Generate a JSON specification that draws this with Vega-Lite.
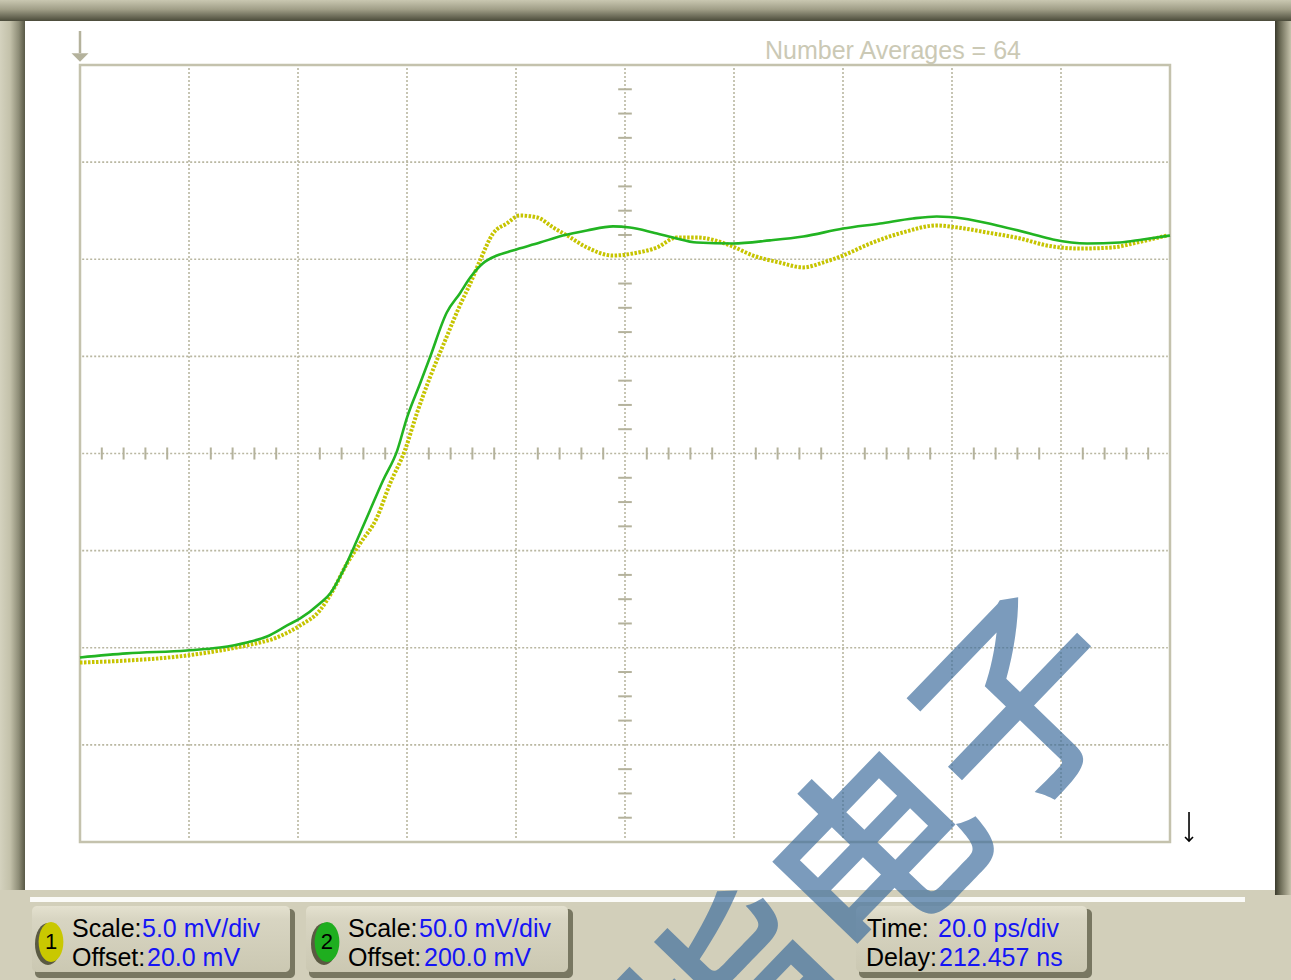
{
  "$schema": "https://vega.github.io/schema/vega-lite/v6.json",
  "width": 1291,
  "height": 980,
  "padding": 0,
  "autosize": {"type": "none"},
  "background": "#d2cfba",
  "config": {"view": {"stroke": null}},
  "resolve": {"scale": {"y": "independent"}},
  "layer": [
    {
      "data": {"values": [{}]},
      "layer": [
        {
          "mark": {"type": "rect", "fill": {"gradient": "linear", "x1": 0, "y1": 0, "x2": 0, "y2": 1, "stops": [{"offset": 0, "color": "#c9c7b1"}, {"offset": 0.45, "color": "#a09e87"}, {"offset": 1, "color": "#4b4b3a"}]}},
          "encoding": {
            "x": {"datum": -114.679, "type": "quantitative", "scale": {"domain": [-114.679, 122.202], "nice": false, "zero": false}, "axis": null},
            "x2": {"datum": 122.202},
            "y": {"datum": 4.6692, "type": "quantitative", "scale": {"domain": [-5.4208, 4.6692], "nice": false, "zero": false}, "axis": null},
            "y2": {"datum": 4.453}
          }
        },
        {
          "mark": {"type": "rect", "fill": {"gradient": "linear", "x1": 0, "y1": 0, "x2": 1, "y2": 0, "stops": [{"offset": 0, "color": "#d4d2be"}, {"offset": 0.4, "color": "#c3c1aa"}, {"offset": 0.75, "color": "#8e8d77"}, {"offset": 1, "color": "#585846"}]}},
          "encoding": {
            "x": {"datum": -114.679, "type": "quantitative", "scale": {"domain": [-114.679, 122.202], "nice": false, "zero": false}, "axis": null},
            "x2": {"datum": -110.092},
            "y": {"datum": 4.453, "type": "quantitative", "scale": {"domain": [-5.4208, 4.6692], "nice": false, "zero": false}, "axis": null},
            "y2": {"datum": -4.4942}
          }
        },
        {
          "mark": {"type": "rect", "fill": {"gradient": "linear", "x1": 0, "y1": 0, "x2": 1, "y2": 0, "stops": [{"offset": 0, "color": "#3a3a2c"}, {"offset": 0.35, "color": "#6f6e59"}, {"offset": 1, "color": "#c6c3ac"}]}},
          "encoding": {
            "x": {"datum": 119.266, "type": "quantitative", "scale": {"domain": [-114.679, 122.202], "nice": false, "zero": false}, "axis": null},
            "x2": {"datum": 122.202},
            "y": {"datum": 4.453, "type": "quantitative", "scale": {"domain": [-5.4208, 4.6692], "nice": false, "zero": false}, "axis": null},
            "y2": {"datum": -4.5457}
          }
        },
        {
          "mark": {"type": "rect", "fill": "#ffffff"},
          "encoding": {
            "x": {"datum": -110.092, "type": "quantitative", "scale": {"domain": [-114.679, 122.202], "nice": false, "zero": false}, "axis": null},
            "x2": {"datum": 119.266},
            "y": {"datum": 4.453, "type": "quantitative", "scale": {"domain": [-5.4208, 4.6692], "nice": false, "zero": false}, "axis": null},
            "y2": {"datum": -4.4942}
          }
        },
        {
          "mark": {"type": "rect", "fill": "#ffffff", "opacity": 0.9},
          "encoding": {
            "x": {"datum": -109.17, "type": "quantitative", "scale": {"domain": [-114.679, 122.202], "nice": false, "zero": false}, "axis": null},
            "x2": {"datum": 113.76},
            "y": {"datum": -4.5663, "type": "quantitative", "scale": {"domain": [-5.4208, 4.6692], "nice": false, "zero": false}, "axis": null},
            "y2": {"datum": -4.6178}
          }
        },
        {
          "data": {"values": [{"a": -108.257, "b": -60.550}, {"a": -57.982, "b": -9.541}, {"a": 42.936, "b": 85.688}]},
          "mark": {"type": "rect", "fill": "#6e6d58", "cornerRadius": 5, "opacity": 0.9},
          "encoding": {
            "x": {"field": "a", "type": "quantitative", "scale": {"domain": [-114.679, 122.202], "nice": false, "zero": false}, "axis": null},
            "x2": {"field": "b"},
            "y": {"datum": -4.6898, "type": "quantitative", "scale": {"domain": [-5.4208, 4.6692], "nice": false, "zero": false}, "axis": null},
            "y2": {"datum": -5.4003}
          }
        },
        {
          "data": {"values": [{"a": -108.807, "b": -61.468}, {"a": -58.532, "b": -10.459}, {"a": 42.385, "b": 84.771}]},
          "mark": {"type": "rect", "cornerRadius": 5, "fill": {"gradient": "linear", "x1": 0, "y1": 0, "x2": 0, "y2": 1, "stops": [{"offset": 0, "color": "#e4e1cf"}, {"offset": 0.2, "color": "#d8d5c2"}, {"offset": 1, "color": "#cbc8b2"}]}},
          "encoding": {
            "x": {"field": "a", "type": "quantitative", "scale": {"domain": [-114.679, 122.202], "nice": false, "zero": false}, "axis": null},
            "x2": {"field": "b"},
            "y": {"datum": -4.6589, "type": "quantitative", "scale": {"domain": [-5.4208, 4.6692], "nice": false, "zero": false}, "axis": null},
            "y2": {"datum": -5.3385}
          }
        },
        {
          "data": {"values": [{"t": -80}, {"t": -60}, {"t": -40}, {"t": -20}, {"t": 0}, {"t": 20}, {"t": 40}, {"t": 60}, {"t": 80}]},
          "mark": {"type": "rule", "color": "#b9b7a1", "strokeWidth": 1.6, "strokeDash": [2, 2]},
          "encoding": {
            "x": {"field": "t", "type": "quantitative", "scale": {"domain": [-114.679, 122.202], "nice": false, "zero": false}, "axis": null},
            "y": {"datum": 3.97, "type": "quantitative", "scale": {"domain": [-5.4208, 4.6692], "nice": false, "zero": false}, "axis": null},
            "y2": {"datum": -3.97}
          }
        },
        {
          "data": {"values": [{"d": -3}, {"d": -2}, {"d": -1}, {"d": 0}, {"d": 1}, {"d": 2}, {"d": 3}]},
          "mark": {"type": "rule", "color": "#b9b7a1", "strokeWidth": 1.6, "strokeDash": [2, 2]},
          "encoding": {
            "x": {"datum": -99.6, "type": "quantitative", "scale": {"domain": [-114.679, 122.202], "nice": false, "zero": false}, "axis": null},
            "x2": {"datum": 99.6},
            "y": {"field": "d", "type": "quantitative", "scale": {"domain": [-5.4208, 4.6692], "nice": false, "zero": false}, "axis": null}
          }
        },
        {
          "data": {"values": [{"t": -96}, {"t": -92}, {"t": -88}, {"t": -84}, {"t": -76}, {"t": -72}, {"t": -68}, {"t": -64}, {"t": -56}, {"t": -52}, {"t": -48}, {"t": -44}, {"t": -36}, {"t": -32}, {"t": -28}, {"t": -24}, {"t": -16}, {"t": -12}, {"t": -8}, {"t": -4}, {"t": 4}, {"t": 8}, {"t": 12}, {"t": 16}, {"t": 24}, {"t": 28}, {"t": 32}, {"t": 36}, {"t": 44}, {"t": 48}, {"t": 52}, {"t": 56}, {"t": 64}, {"t": 68}, {"t": 72}, {"t": 76}, {"t": 84}, {"t": 88}, {"t": 92}, {"t": 96}]},
          "mark": {"type": "rule", "color": "#b4b29c", "strokeWidth": 2},
          "encoding": {
            "x": {"field": "t", "type": "quantitative", "scale": {"domain": [-114.679, 122.202], "nice": false, "zero": false}, "axis": null},
            "y": {"datum": 0.062, "type": "quantitative", "scale": {"domain": [-5.4208, 4.6692], "nice": false, "zero": false}, "axis": null},
            "y2": {"datum": -0.062}
          }
        },
        {
          "data": {"values": [{"d": -3.75}, {"d": -3.5}, {"d": -3.25}, {"d": -2.75}, {"d": -2.5}, {"d": -2.25}, {"d": -1.75}, {"d": -1.5}, {"d": -1.25}, {"d": -0.75}, {"d": -0.5}, {"d": -0.25}, {"d": 0.25}, {"d": 0.5}, {"d": 0.75}, {"d": 1.25}, {"d": 1.5}, {"d": 1.75}, {"d": 2.25}, {"d": 2.5}, {"d": 2.75}, {"d": 3.25}, {"d": 3.5}, {"d": 3.75}]},
          "mark": {"type": "rule", "color": "#b4b29c", "strokeWidth": 2},
          "encoding": {
            "x": {"datum": -1.25, "type": "quantitative", "scale": {"domain": [-114.679, 122.202], "nice": false, "zero": false}, "axis": null},
            "x2": {"datum": 1.25},
            "y": {"field": "d", "type": "quantitative", "scale": {"domain": [-5.4208, 4.6692], "nice": false, "zero": false}, "axis": null}
          }
        },
        {
          "mark": {"type": "rect", "filled": false, "stroke": "#c4c2ad", "strokeWidth": 2.5},
          "encoding": {
            "x": {"datum": -100, "type": "quantitative", "scale": {"domain": [-114.679, 122.202], "nice": false, "zero": false}, "axis": null},
            "x2": {"datum": 100},
            "y": {"datum": 4, "type": "quantitative", "scale": {"domain": [-5.4208, 4.6692], "nice": false, "zero": false}, "axis": null},
            "y2": {"datum": -4}
          }
        },
        {
          "mark": {"type": "rule", "color": "#b4b29c", "strokeWidth": 2.5},
          "encoding": {
            "x": {"datum": -100, "type": "quantitative", "scale": {"domain": [-114.679, 122.202], "nice": false, "zero": false}, "axis": null},
            "y": {"datum": 4.3501, "type": "quantitative", "scale": {"domain": [-5.4208, 4.6692], "nice": false, "zero": false}, "axis": null},
            "y2": {"datum": 4.1236}
          }
        },
        {
          "mark": {"type": "point", "shape": "M-1,-0.5L1,-0.5L0,0.5Z", "size": 289, "filled": true, "color": "#b4b29c", "opacity": 1},
          "encoding": {
            "x": {"datum": -100, "type": "quantitative", "scale": {"domain": [-114.679, 122.202], "nice": false, "zero": false}, "axis": null},
            "y": {"datum": 4.0772, "type": "quantitative", "scale": {"domain": [-5.4208, 4.6692], "nice": false, "zero": false}, "axis": null}
          }
        },
        {
          "mark": {"type": "rule", "color": "#000000", "strokeWidth": 1.6},
          "encoding": {
            "x": {"datum": 103.49, "type": "quantitative", "scale": {"domain": [-114.679, 122.202], "nice": false, "zero": false}, "axis": null},
            "y": {"datum": -3.691, "type": "quantitative", "scale": {"domain": [-5.4208, 4.6692], "nice": false, "zero": false}, "axis": null},
            "y2": {"datum": -3.9897}
          }
        },
        {
          "mark": {"type": "point", "shape": "M-1,-1L0,0L1,-1", "size": 64, "filled": false, "stroke": "#000000", "strokeWidth": 1.6, "opacity": 1},
          "encoding": {
            "x": {"datum": 103.49, "type": "quantitative", "scale": {"domain": [-114.679, 122.202], "nice": false, "zero": false}, "axis": null},
            "y": {"datum": -3.9897, "type": "quantitative", "scale": {"domain": [-5.4208, 4.6692], "nice": false, "zero": false}, "axis": null}
          }
        },
        {
          "data": {"values": [{"text": "Number Averages = 64", "t": 25.69, "d": 4.0618}]},
          "mark": {"type": "text", "align": "left", "baseline": "alphabetic", "font": "Liberation Sans", "fontSize": 25, "color": "#cbc9b5"},
          "encoding": {
            "x": {"field": "t", "type": "quantitative", "scale": {"domain": [-114.679, 122.202], "nice": false, "zero": false}, "axis": null},
            "y": {"field": "d", "type": "quantitative", "scale": {"domain": [-5.4208, 4.6692], "nice": false, "zero": false}, "axis": null},
            "text": {"field": "text"}
          }
        },
        {
          "data": {"values": [{"t": -105.872, "d": -5.0502}, {"t": -55.229, "d": -5.0502}]},
          "mark": {"type": "point", "shape": "M0,-1A0.62,1,0,1,1,0,1A0.62,1,0,1,1,0,-1Z", "size": 1764, "filled": true, "color": "#45452e", "opacity": 0.85},
          "encoding": {
            "x": {"field": "t", "type": "quantitative", "scale": {"domain": [-114.679, 122.202], "nice": false, "zero": false}, "axis": null},
            "y": {"field": "d", "type": "quantitative", "scale": {"domain": [-5.4208, 4.6692], "nice": false, "zero": false}, "axis": null}
          }
        },
        {
          "data": {"values": [{"t": -105.321, "d": -5.0296}]},
          "mark": {"type": "point", "shape": "M0,-1A0.62,1,0,1,1,0,1A0.62,1,0,1,1,0,-1Z", "size": 1600, "filled": true, "color": "#c9c800", "opacity": 1},
          "encoding": {
            "x": {"field": "t", "type": "quantitative", "scale": {"domain": [-114.679, 122.202], "nice": false, "zero": false}, "axis": null},
            "y": {"field": "d", "type": "quantitative", "scale": {"domain": [-5.4208, 4.6692], "nice": false, "zero": false}, "axis": null}
          }
        },
        {
          "data": {"values": [{"t": -54.679, "d": -5.0296}]},
          "mark": {"type": "point", "shape": "M0,-1A0.62,1,0,1,1,0,1A0.62,1,0,1,1,0,-1Z", "size": 1600, "filled": true, "color": "#1fae1f", "opacity": 1},
          "encoding": {
            "x": {"field": "t", "type": "quantitative", "scale": {"domain": [-114.679, 122.202], "nice": false, "zero": false}, "axis": null},
            "y": {"field": "d", "type": "quantitative", "scale": {"domain": [-5.4208, 4.6692], "nice": false, "zero": false}, "axis": null}
          }
        },
        {
          "data": {"values": [{"text": "1", "t": -105.321, "d": -5.0296}, {"text": "2", "t": -54.679, "d": -5.0296}]},
          "mark": {"type": "text", "align": "center", "baseline": "middle", "font": "Liberation Sans", "fontSize": 22, "color": "#000000"},
          "encoding": {
            "x": {"field": "t", "type": "quantitative", "scale": {"domain": [-114.679, 122.202], "nice": false, "zero": false}, "axis": null},
            "y": {"field": "d", "type": "quantitative", "scale": {"domain": [-5.4208, 4.6692], "nice": false, "zero": false}, "axis": null},
            "text": {"field": "text"}
          }
        },
        {
          "data": {"values": [
            {"text": "Scale:", "t": -101.468, "d": -4.9781},
            {"text": "Offset:", "t": -101.468, "d": -5.2767},
            {"text": "Scale:", "t": -50.826, "d": -4.9781},
            {"text": "Offset:", "t": -50.826, "d": -5.2767},
            {"text": "Time:", "t": 44.404, "d": -4.9781},
            {"text": "Delay:", "t": 44.22, "d": -5.2767}
          ]},
          "mark": {"type": "text", "align": "left", "baseline": "alphabetic", "font": "Liberation Sans", "fontSize": 25, "color": "#000000"},
          "encoding": {
            "x": {"field": "t", "type": "quantitative", "scale": {"domain": [-114.679, 122.202], "nice": false, "zero": false}, "axis": null},
            "y": {"field": "d", "type": "quantitative", "scale": {"domain": [-5.4208, 4.6692], "nice": false, "zero": false}, "axis": null},
            "text": {"field": "text"}
          }
        },
        {
          "data": {"values": [
            {"text": "5.0 mV/div", "t": -88.624, "d": -4.9781},
            {"text": "20.0 mV", "t": -87.706, "d": -5.2767},
            {"text": "50.0 mV/div", "t": -37.798, "d": -4.9781},
            {"text": "200.0 mV", "t": -36.881, "d": -5.2767},
            {"text": "20.0 ps/div", "t": 57.431, "d": -4.9781},
            {"text": "212.457 ns", "t": 57.615, "d": -5.2767}
          ]},
          "mark": {"type": "text", "align": "left", "baseline": "alphabetic", "font": "Liberation Sans", "fontSize": 25, "color": "#1515f5"},
          "encoding": {
            "x": {"field": "t", "type": "quantitative", "scale": {"domain": [-114.679, 122.202], "nice": false, "zero": false}, "axis": null},
            "y": {"field": "d", "type": "quantitative", "scale": {"domain": [-5.4208, 4.6692], "nice": false, "zero": false}, "axis": null},
            "text": {"field": "text"}
          }
        },
        {
          "data": {"values": [{"text": "指电子", "t": 47.706, "d": -4.2059}]},
          "mark": {"type": "text", "align": "center", "baseline": "middle", "font": "Noto Sans CJK SC", "fontWeight": 500, "fontSize": 205, "angle": -46, "color": "#3d6d9d", "opacity": 0.68},
          "encoding": {
            "x": {"field": "t", "type": "quantitative", "scale": {"domain": [-114.679, 122.202], "nice": false, "zero": false}, "axis": null},
            "y": {"field": "d", "type": "quantitative", "scale": {"domain": [-5.4208, 4.6692], "nice": false, "zero": false}, "axis": null},
            "text": {"field": "text"}
          }
        }
      ]
    },
    {
      "data": {"values": [
        {"t": -100.0, "mV": 9.24}, {"t": -91.4, "mV": 9.34}, {"t": -80.4, "mV": 9.6}, {"t": -74.3, "mV": 9.86},
        {"t": -69.4, "mV": 10.12}, {"t": -63.9, "mV": 10.53}, {"t": -59.6, "mV": 11.15}, {"t": -56.0, "mV": 11.92},
        {"t": -53.6, "mV": 12.95}, {"t": -51.0, "mV": 14.34}, {"t": -48.6, "mV": 15.37}, {"t": -45.5, "mV": 16.71},
        {"t": -43.1, "mV": 18.46}, {"t": -40.4, "mV": 20.15}, {"t": -38.2, "mV": 22.06}, {"t": -35.8, "mV": 23.91},
        {"t": -33.0, "mV": 25.82}, {"t": -30.3, "mV": 27.62}, {"t": -28.4, "mV": 28.75}, {"t": -26.6, "mV": 29.94},
        {"t": -24.2, "mV": 31.33}, {"t": -21.7, "mV": 31.84}, {"t": -19.3, "mV": 32.25}, {"t": -16.1, "mV": 32.15},
        {"t": -13.2, "mV": 31.64}, {"t": -10.6, "mV": 31.22}, {"t": -7.0, "mV": 30.61}, {"t": -2.2, "mV": 30.19},
        {"t": 1.5, "mV": 30.3}, {"t": 5.9, "mV": 30.61}, {"t": 9.5, "mV": 31.12}, {"t": 13.2, "mV": 31.12},
        {"t": 19.3, "mV": 30.71}, {"t": 23.5, "mV": 30.19}, {"t": 28.4, "mV": 29.83}, {"t": 32.7, "mV": 29.58},
        {"t": 36.3, "mV": 29.83}, {"t": 40.0, "mV": 30.19}, {"t": 45.0, "mV": 30.81}, {"t": 51.0, "mV": 31.38},
        {"t": 57.2, "mV": 31.74}, {"t": 60.9, "mV": 31.64}, {"t": 66.4, "mV": 31.38}, {"t": 72.5, "mV": 31.07},
        {"t": 77.4, "mV": 30.71}, {"t": 83.5, "mV": 30.55}, {"t": 89.5, "mV": 30.61}, {"t": 93.9, "mV": 30.86},
        {"t": 99.4, "mV": 31.22}
      ]},
      "mark": {"type": "line", "color": "#c6c400", "strokeWidth": 4, "strokeDash": [2.5, 1.5], "interpolate": "monotone"},
      "encoding": {
        "x": {"field": "t", "type": "quantitative", "scale": {"domain": [-114.679, 122.202], "nice": false, "zero": false}, "axis": null},
        "y": {"field": "mV", "type": "quantitative", "scale": {"domain": [-7.104, 43.346], "nice": false, "zero": false}, "axis": null}
      }
    },
    {
      "data": {"values": [
        {"t": -100.0, "mV": 95.0}, {"t": -91.4, "mV": 97.1}, {"t": -80.4, "mV": 98.6}, {"t": -74.3, "mV": 100.1},
        {"t": -69.4, "mV": 102.7}, {"t": -65.7, "mV": 105.8}, {"t": -62.0, "mV": 111.5}, {"t": -59.6, "mV": 115.1},
        {"t": -56.0, "mV": 122.8}, {"t": -54.1, "mV": 127.9}, {"t": -51.7, "mV": 139.8}, {"t": -49.2, "mV": 155.2},
        {"t": -46.8, "mV": 170.7}, {"t": -44.4, "mV": 186.1}, {"t": -41.8, "mV": 201.5}, {"t": -40.0, "mV": 218.5},
        {"t": -37.6, "mV": 236.0}, {"t": -35.8, "mV": 249.4}, {"t": -32.7, "mV": 272.6}, {"t": -30.3, "mV": 282.4},
        {"t": -28.4, "mV": 290.6}, {"t": -26.1, "mV": 297.8}, {"t": -23.5, "mV": 301.9}, {"t": -20.6, "mV": 304.5},
        {"t": -15.6, "mV": 308.6}, {"t": -11.4, "mV": 312.2}, {"t": -7.0, "mV": 314.8}, {"t": -2.2, "mV": 316.9},
        {"t": 0.9, "mV": 316.3}, {"t": 5.1, "mV": 313.8}, {"t": 8.8, "mV": 311.2}, {"t": 13.2, "mV": 308.6},
        {"t": 19.8, "mV": 308.1}, {"t": 26.6, "mV": 309.7}, {"t": 32.7, "mV": 311.7}, {"t": 40.0, "mV": 315.8},
        {"t": 46.8, "mV": 318.4}, {"t": 52.8, "mV": 321.0}, {"t": 57.2, "mV": 322.0}, {"t": 62.0, "mV": 321.0},
        {"t": 68.3, "mV": 317.4}, {"t": 74.3, "mV": 313.3}, {"t": 78.5, "mV": 310.2}, {"t": 84.8, "mV": 308.1},
        {"t": 90.8, "mV": 308.6}, {"t": 95.0, "mV": 310.2}, {"t": 100.0, "mV": 312.2}
      ]},
      "mark": {"type": "line", "color": "#22b422", "strokeWidth": 2.6, "interpolate": "monotone"},
      "encoding": {
        "x": {"field": "t", "type": "quantitative", "scale": {"domain": [-114.679, 122.202], "nice": false, "zero": false}, "axis": null},
        "y": {"field": "mV", "type": "quantitative", "scale": {"domain": [-71.04, 433.46], "nice": false, "zero": false}, "axis": null}
      }
    }
  ]
}
